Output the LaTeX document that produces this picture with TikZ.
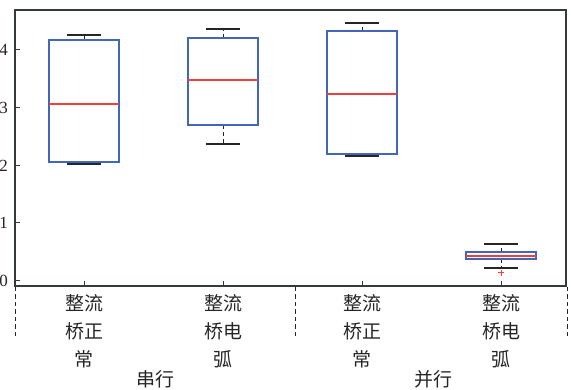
\documentclass[tikz,border=0pt]{standalone}
\usepackage{fontspec}
\setmainfont{Liberation Serif}
\newfontfamily\cjk{Noto Sans CJK SC}
\usetikzlibrary{positioning}
\definecolor{boxline}{RGB}{66,102,186}
\definecolor{medianline}{RGB}{240,62,62}
\definecolor{axisline}{RGB}{52,58,58}
\newcommand{\boxitem}[7]{
  % #1 name, #2 x, #3 whisker low, #4 box low, #5 median, #6 box high, #7 whisker high
  \draw[whisker] (#2,#4) -- (#2,#3);
  \draw[whisker] (#2,#6) -- (#2,#7);
  \draw[whiskercap] (#2-17,#3) -- (#2+17,#3);
  \draw[whiskercap] (#2-17,#7) -- (#2+17,#7);
  \draw[boxframe] (#2-35,#4) rectangle (#2+35,#6);
  \draw[median] (#2-35,#5) -- (#2+35,#5);
  \draw[axisline,line width=1pt] (#2,286) -- (#2,281);
  \coordinate (#1) at (#2,286);
}
\tikzset{y=-1pt}
\tikzset{x=1pt}
\tikzset{whisker/.style={black!85,line width=1pt,dash pattern=on 4pt off 3pt}}
\tikzset{whiskercap/.style={black!85,line width=1.2pt}}
\tikzset{boxframe/.style={boxline,line width=1.3pt}}
\tikzset{median/.style={medianline,line width=1.2pt}}
\tikzset{separator/.style={black!85,line width=1pt,dash pattern=on 4.5pt off 3pt}}
\tikzset{catlabel/.style={font=\cjk\fontsize{19}{28}\selectfont,align=center,inner sep=0pt,text=black!85}}
\tikzset{ticklabel/.style={font=\fontsize{17}{17}\selectfont,anchor=east,inner sep=0pt,text=black!85}}
\begin{document}
\begin{tikzpicture}
  \useasboundingbox (0,0) rectangle (571,390);
  \fill[white] (0,0) rectangle (571,390);

  %% Boxes
  \boxitem{B1}{84}{164}{162}{104}{40}{35}
  \boxitem{B2}{223}{144}{125}{80}{38}{29}
  \boxitem{B3}{362}{156}{154}{94}{31}{23}
  \boxitem{B4}{501}{268}{259}{256}{252}{244}
  \draw[medianline,line width=1pt] (498,273) -- (504,273) (501,270) -- (501,276);

  %% Frame and y ticks
  \draw[axisline,line width=1.4pt] (15,10) rectangle (566,286);
  \foreach \v/\y in {0/281,1/223,2/166,3/108,4/50}{
    \draw[axisline,line width=1pt] (15,\y) -- (20,\y);
    \node[ticklabel] (T\v) at (8,\y) {\v};
  }

  %% Category labels
  \node[catlabel] (L1) at (84,331) {整流\\桥正\\常};
  \node[catlabel] (L2) at (223,331) {整流\\桥电\\弧};
  \node[catlabel] (L3) at (362,331) {整流\\桥正\\常};
  \node[catlabel] (L4) at (501,331) {整流\\桥电\\弧};

  %% Groups
  \draw[separator] (15,287) -- (15,336);
  \draw[separator] (295,287) -- (295,336);
  \draw[separator] (567,287) -- (567,336);
  \node[catlabel] (G1) at (155,379) {串行};
  \node[catlabel] (G2) at (433,379) {并行};
\end{tikzpicture}
\end{document}
